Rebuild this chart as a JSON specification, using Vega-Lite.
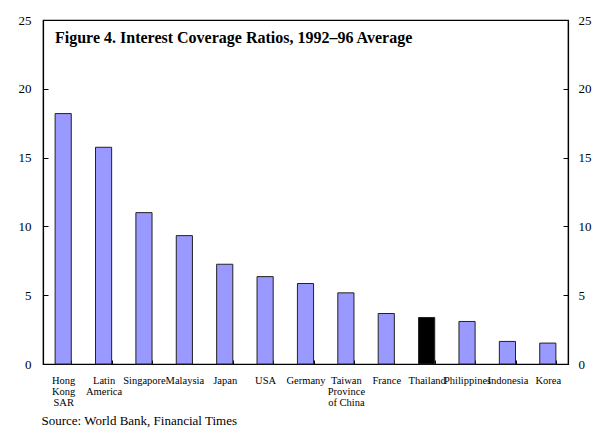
{
  "$schema": "https://vega.github.io/schema/vega-lite/v6.json",
  "autosize": "none",
  "width": 525,
  "height": 344,
  "padding": {"left": 43, "top": 20, "right": 33, "bottom": 81},
  "background": "white",
  "config": {
    "font": "Liberation Serif",
    "view": {"stroke": "black", "strokeWidth": 1.2},
    "axis": {"labelFont": "Liberation Serif", "titleFont": "Liberation Serif", "labelColor": "black", "domainColor": "black", "tickColor": "black"}
  },
  "title": {
    "text": "Figure 4. Interest Coverage Ratios, 1992–96 Average",
    "anchor": "start",
    "orient": "top",
    "frame": "group",
    "offset": -45,
    "baseline": "alphabetic",
    "dx": 12,
    "font": "Liberation Serif",
    "fontSize": 16,
    "fontWeight": "bold",
    "color": "black"
  },
  "data": {
    "values": [
      {"country": "Hong Kong SAR", "ratio": 18.2, "highlight": "no"},
      {"country": "Latin America", "ratio": 15.75, "highlight": "no"},
      {"country": "Singapore", "ratio": 11.0, "highlight": "no"},
      {"country": "Malaysia", "ratio": 9.33, "highlight": "no"},
      {"country": "Japan", "ratio": 7.25, "highlight": "no"},
      {"country": "USA", "ratio": 6.35, "highlight": "no"},
      {"country": "Germany", "ratio": 5.85, "highlight": "no"},
      {"country": "Taiwan Province of China", "ratio": 5.17, "highlight": "no"},
      {"country": "France", "ratio": 3.67, "highlight": "no"},
      {"country": "Thailand", "ratio": 3.38, "highlight": "yes"},
      {"country": "Philippines", "ratio": 3.09, "highlight": "no"},
      {"country": "Indonesia", "ratio": 1.64, "highlight": "no"},
      {"country": "Korea", "ratio": 1.52, "highlight": "no"}
    ]
  },
  "encoding": {
    "x": {
      "field": "country",
      "type": "nominal",
      "sort": null,
      "scale": {"paddingInner": 0.6, "paddingOuter": 0.3},
      "axis": {
        "title": "Source: World Bank, Financial Times",
        "titleFontSize": 13,
        "titleFontWeight": "normal",
        "titleAnchor": "start",
        "titleAlign": "left",
        "titleBaseline": "alphabetic",
        "titleX": -2,
        "titleY": 60,
        "labelAngle": 0,
        "labelFontSize": 10.5,
        "labelBaseline": "top",
        "labelLineHeight": 11,
        "labelPadding": 15,
        "labelOverlap": false,
        "labelBound": false,
        "labelLimit": 0,
        "labelExpr": "datum.label == 'Hong Kong SAR' ? ['Hong', 'Kong', 'SAR'] : datum.label == 'Latin America' ? ['Latin', 'America'] : datum.label == 'Taiwan Province of China' ? ['Taiwan', 'Province', 'of China'] : datum.label",
        "tickBand": "extent",
        "tickSize": -4,
        "domainWidth": 1.2
      }
    },
    "y": {
      "field": "ratio",
      "type": "quantitative",
      "scale": {"domain": [0, 25], "nice": false},
      "axis": null
    }
  },
  "layer": [
    {
      "mark": {"type": "bar", "stroke": "#222222", "strokeWidth": 1},
      "encoding": {
        "y": {
          "field": "ratio",
          "type": "quantitative",
          "scale": {"domain": [0, 25], "nice": false},
          "axis": {"orient": "left", "title": null, "values": [0, 5, 10, 15, 20, 25], "tickSize": -5, "labelPadding": 17, "labelFontSize": 13, "grid": false, "domainWidth": 1.2}
        },
        "color": {
          "field": "highlight",
          "type": "nominal",
          "scale": {"domain": ["no", "yes"], "range": ["#9999FF", "#000000"]},
          "legend": null
        }
      }
    },
    {
      "mark": {"type": "tick", "opacity": 0},
      "encoding": {
        "y": {
          "field": "ratio",
          "type": "quantitative",
          "scale": {"domain": [0, 25], "nice": false},
          "axis": {"orient": "right", "title": null, "values": [0, 5, 10, 15, 20, 25], "tickSize": -5, "labelPadding": 15, "labelFontSize": 13, "grid": false, "domainWidth": 1.2}
        }
      }
    }
  ],
  "resolve": {"axis": {"y": "independent"}}
}
